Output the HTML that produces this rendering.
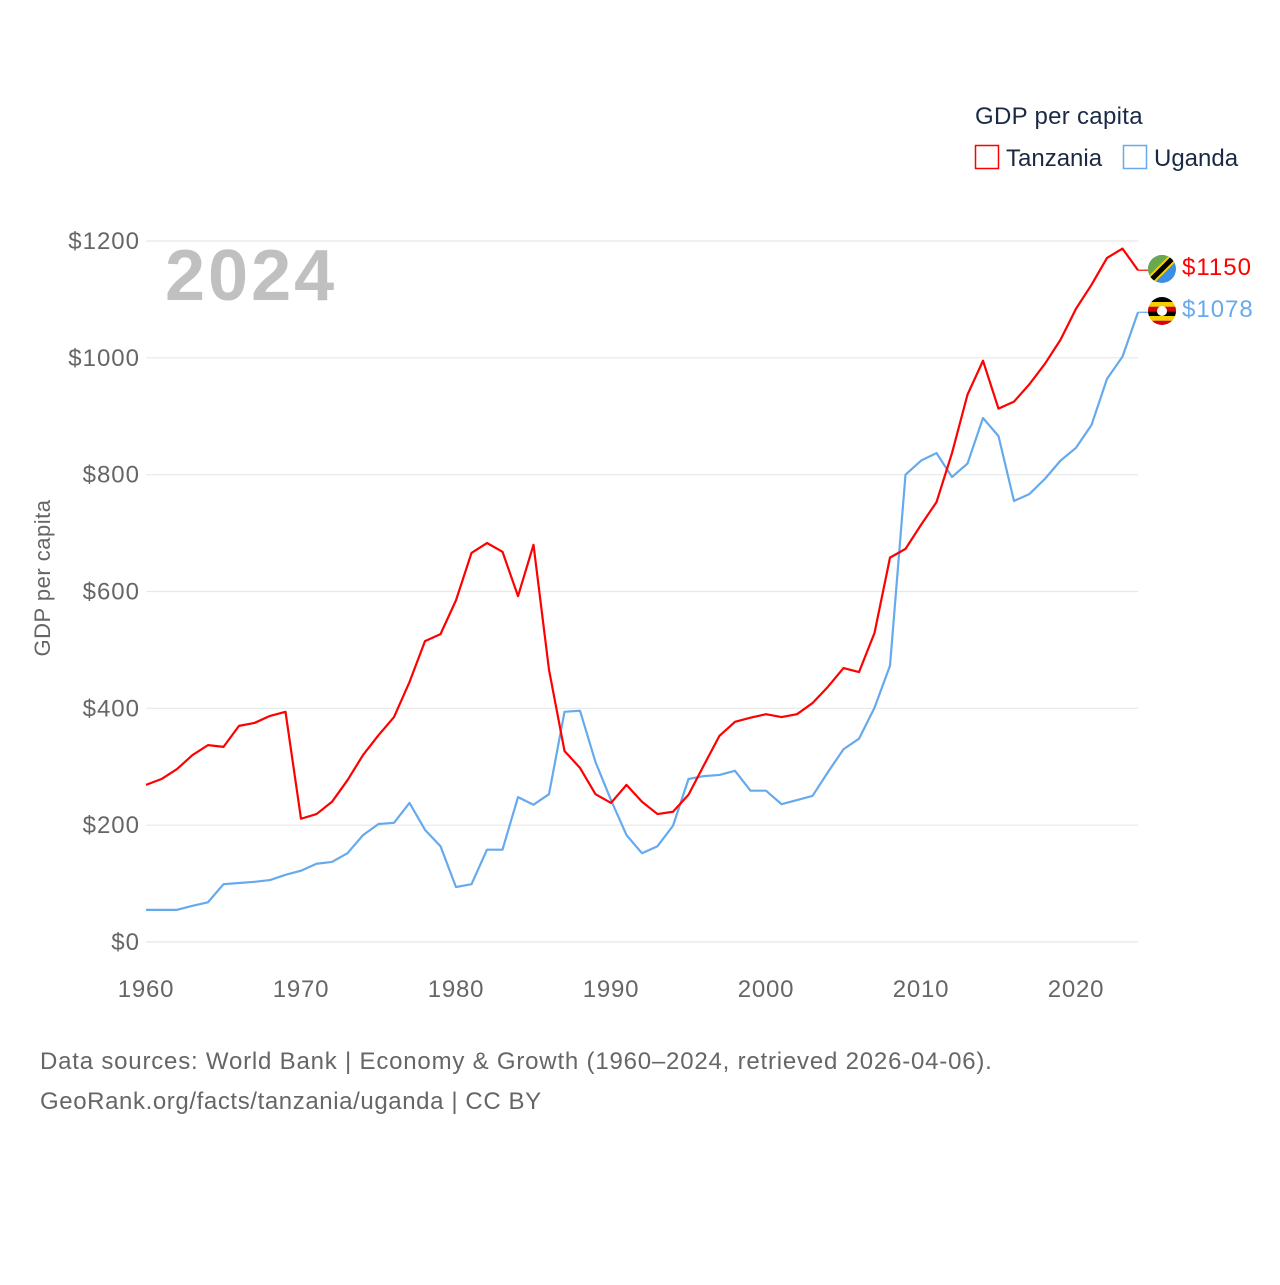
<!DOCTYPE html>
<html><head><meta charset="utf-8"><style>
html,body{margin:0;padding:0;background:#fff;}
body{width:1280px;height:1280px;overflow:hidden;font-family:"Liberation Sans",sans-serif;}
</style></head><body>
<svg id="chart" width="1280" height="1280" xmlns="http://www.w3.org/2000/svg" font-family="Liberation Sans, sans-serif">
<defs>
<clipPath id="c1"><circle cx="1162" cy="269" r="14"/></clipPath>
<clipPath id="c2"><circle cx="1162" cy="311" r="14"/></clipPath>
</defs>
<g id="grid"></g>
<g id="yticks"></g>
<g id="xticks"></g>
<text x="165" y="300" font-size="72" font-weight="bold" fill="#c0c0c0" letter-spacing="3">2024</text>
<text transform="translate(50,578) rotate(-90)" text-anchor="middle" font-size="22" fill="#666" letter-spacing="0.5">GDP per capita</text>
<g id="lines"></g>
<g>
<text x="975" y="124" font-size="24" fill="#1a2a44" letter-spacing="0.3">GDP per capita</text>
<rect x="975.5" y="145.5" width="23" height="23" fill="none" stroke="#ff0000" stroke-width="1.5"/>
<text x="1006" y="166" font-size="24" fill="#1a2a44">Tanzania</text>
<rect x="1123.5" y="145.5" width="23" height="23" fill="none" stroke="#66aaee" stroke-width="1.5"/>
<text x="1154" y="166" font-size="24" fill="#1a2a44">Uganda</text>
</g>
<g clip-path="url(#c1)">
<rect x="1148" y="255" width="28" height="28" fill="#3a8ee8"/>
<polygon points="1148,255 1176,255 1148,283" fill="#6aa84f"/>
<line x1="1148" y1="283" x2="1176" y2="255" stroke="#f5d000" stroke-width="9"/>
<line x1="1148" y1="283" x2="1176" y2="255" stroke="#000" stroke-width="5"/>
</g>
<g clip-path="url(#c2)">
<rect x="1148" y="297" width="28" height="5" fill="#000"/>
<rect x="1148" y="302" width="28" height="4.7" fill="#f5d000"/>
<rect x="1148" y="306.7" width="28" height="4.7" fill="#d90000"/>
<rect x="1148" y="311.4" width="28" height="4.7" fill="#000"/>
<rect x="1148" y="316" width="28" height="4.7" fill="#f5d000"/>
<rect x="1148" y="320.7" width="28" height="5" fill="#d90000"/>
<circle cx="1162" cy="311" r="5" fill="#fff"/>
</g>
<text x="1182" y="275" font-size="24" fill="#ff0000" letter-spacing="1">$1150</text>
<text x="1182" y="317" font-size="24" fill="#66aaee" letter-spacing="1">$1078</text>
<text x="40" y="1069" font-size="24" fill="#666" letter-spacing="0.8">Data sources: World Bank | Economy &amp; Growth (1960–2024, retrieved 2026-04-06).</text>
<text x="40" y="1109" font-size="24" fill="#666" letter-spacing="0.6">GeoRank.org/facts/tanzania/uganda | CC BY</text>
</svg>
<script>
const years = [];
for (let y = 1960; y <= 2024; y++) years.push(y);
const tanzania = [269,279,296,320,337,334,370,375,387,394,211,219,240,277,320,354,385,445,515,527,585,666,683,668,592,680,466,327,298,253,238,269,240,219,223,252,303,353,377,384,390,385,390,409,437,469,462,529,658,673,714,753,837,937,995,913,925,955,990,1031,1084,1125,1171,1187,1150];
const uganda = [55,55,55,62,68,99,101,103,106,115,122,134,137,152,183,202,204,238,192,164,94,99,158,158,248,235,253,394,396,308,243,183,152,164,199,279,284,286,293,259,259,236,243,250,291,330,348,401,473,800,824,837,796,819,897,866,755,767,793,824,846,885,964,1002,1078];
const yTickValues = [0,200,400,600,800,1000,1200];
const xTickValues = [1960,1970,1980,1990,2000,2010,2020];
const NS = "http://www.w3.org/2000/svg";
const X0 = 146, X1 = 1138, Y0 = 942, Y1 = 241;
function xs(yr){ return X0 + (yr - 1960) / (2024 - 1960) * (X1 - X0); }
function ys(v){ return Y0 - v / 1200 * (Y0 - Y1); }
const grid = document.getElementById('grid'), yt = document.getElementById('yticks'), xt = document.getElementById('xticks'), lines = document.getElementById('lines');
yTickValues.forEach(v => {
  const l = document.createElementNS(NS,'line');
  
  
  l.setAttribute('x1', X0); l.setAttribute('x2', X1);
  l.setAttribute('y1', ys(v)); l.setAttribute('y2', ys(v));
  l.setAttribute('stroke', '#e8e8e8'); l.setAttribute('stroke-width', '1.2');
  grid.appendChild(l);
  const t = document.createElementNS(NS,'text');
  
  
  t.setAttribute('x', 140); t.setAttribute('y', ys(v) + 8);
  t.setAttribute('text-anchor', 'end'); t.setAttribute('font-size', '24'); t.setAttribute('fill', '#666');
  t.setAttribute('letter-spacing', '1');
  t.textContent = '$' + v;
  yt.appendChild(t);
});
xTickValues.forEach(v => {
  const t = document.createElementNS(NS,'text');
  
  
  t.setAttribute('x', xs(v)); t.setAttribute('y', 997);
  t.setAttribute('text-anchor', 'middle'); t.setAttribute('font-size', '24'); t.setAttribute('fill', '#666');
  t.setAttribute('letter-spacing', '0.8');
  t.textContent = v;
  xt.appendChild(t);
});
function draw(data, color, name){
  const p = document.createElementNS(NS,'polyline');
  
  
  p.setAttribute('points', data.map((v,i) => xs(years[i]) + ',' + ys(v)).join(' '));
  p.setAttribute('fill', 'none'); p.setAttribute('stroke', color); p.setAttribute('stroke-width', '2.2');
  p.setAttribute('stroke-linejoin', 'round');
  lines.appendChild(p);
  const e = document.createElementNS(NS,'line');
  
  
  e.setAttribute('x1', X1); e.setAttribute('x2', 1148);
  e.setAttribute('y1', ys(data[data.length-1])); e.setAttribute('y2', ys(data[data.length-1]));
  e.setAttribute('stroke', color); e.setAttribute('stroke-width', '1.2');
  lines.appendChild(e);
}
draw(uganda, '#66aaee', 'uganda-line');
draw(tanzania, '#ff0000', 'tanzania-line');
</script>
</body></html>
